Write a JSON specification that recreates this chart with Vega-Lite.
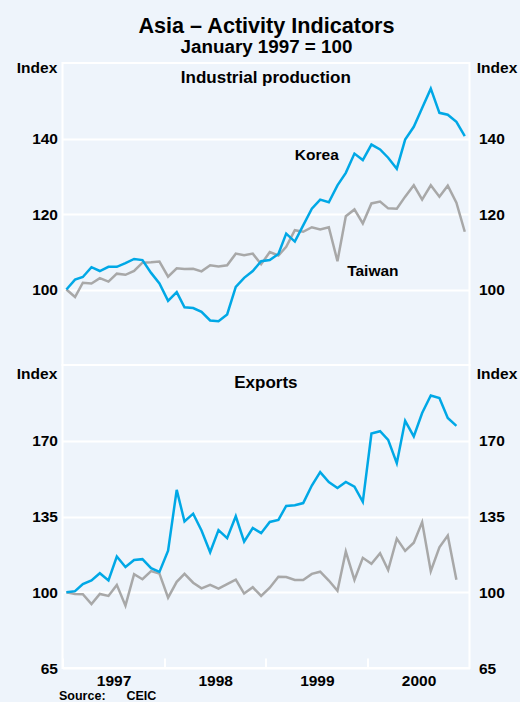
{
  "$schema": "https://vega.github.io/schema/vega-lite/v6.json",
  "padding": {"left": 14.5, "top": 15, "right": 30, "bottom": 40},
  "background": "#EEF4FB",
  "title": {
    "text": "Asia – Activity Indicators",
    "subtitle": "January 1997 = 100",
    "fontSize": 21.6,
    "subtitleFontSize": 18.8,
    "subtitleFont": "Liberation Sans",
    "subtitleFontWeight": "bold",
    "subtitleColor": "black",
    "subtitlePadding": 1,
    "anchor": "middle",
    "offset": 2
  },
  "datasets": {
    "series": [
      {"s":"IP","c":"Korea","d":"1997-01-15","v":100},
      {"s":"IP","c":"Korea","d":"1997-02-15","v":102.6},
      {"s":"IP","c":"Korea","d":"1997-03-15","v":103.3},
      {"s":"IP","c":"Korea","d":"1997-04-15","v":105.9},
      {"s":"IP","c":"Korea","d":"1997-05-15","v":104.9},
      {"s":"IP","c":"Korea","d":"1997-06-15","v":106.0},
      {"s":"IP","c":"Korea","d":"1997-07-15","v":106.0},
      {"s":"IP","c":"Korea","d":"1997-08-15","v":107.0},
      {"s":"IP","c":"Korea","d":"1997-09-15","v":108.1},
      {"s":"IP","c":"Korea","d":"1997-10-15","v":107.8},
      {"s":"IP","c":"Korea","d":"1997-11-15","v":104.4},
      {"s":"IP","c":"Korea","d":"1997-12-15","v":101.6},
      {"s":"IP","c":"Korea","d":"1998-01-15","v":97.0},
      {"s":"IP","c":"Korea","d":"1998-02-15","v":99.3},
      {"s":"IP","c":"Korea","d":"1998-03-15","v":95.3},
      {"s":"IP","c":"Korea","d":"1998-04-15","v":95.1},
      {"s":"IP","c":"Korea","d":"1998-05-15","v":94.1},
      {"s":"IP","c":"Korea","d":"1998-06-15","v":91.8},
      {"s":"IP","c":"Korea","d":"1998-07-15","v":91.6},
      {"s":"IP","c":"Korea","d":"1998-08-15","v":93.4},
      {"s":"IP","c":"Korea","d":"1998-09-15","v":100.7},
      {"s":"IP","c":"Korea","d":"1998-10-15","v":103.1},
      {"s":"IP","c":"Korea","d":"1998-11-15","v":104.9},
      {"s":"IP","c":"Korea","d":"1998-12-15","v":107.5},
      {"s":"IP","c":"Korea","d":"1999-01-15","v":107.8},
      {"s":"IP","c":"Korea","d":"1999-02-15","v":109.4},
      {"s":"IP","c":"Korea","d":"1999-03-15","v":114.8},
      {"s":"IP","c":"Korea","d":"1999-04-15","v":112.7},
      {"s":"IP","c":"Korea","d":"1999-05-15","v":117.0},
      {"s":"IP","c":"Korea","d":"1999-06-15","v":121.4},
      {"s":"IP","c":"Korea","d":"1999-07-15","v":123.8},
      {"s":"IP","c":"Korea","d":"1999-08-15","v":123.1},
      {"s":"IP","c":"Korea","d":"1999-09-15","v":127.6},
      {"s":"IP","c":"Korea","d":"1999-10-15","v":130.9},
      {"s":"IP","c":"Korea","d":"1999-11-15","v":136.0},
      {"s":"IP","c":"Korea","d":"1999-12-15","v":134.3},
      {"s":"IP","c":"Korea","d":"2000-01-15","v":138.4},
      {"s":"IP","c":"Korea","d":"2000-02-15","v":137.1},
      {"s":"IP","c":"Korea","d":"2000-03-15","v":134.9},
      {"s":"IP","c":"Korea","d":"2000-04-15","v":132.0},
      {"s":"IP","c":"Korea","d":"2000-05-15","v":139.7},
      {"s":"IP","c":"Korea","d":"2000-06-15","v":143.1},
      {"s":"IP","c":"Korea","d":"2000-07-15","v":148.1},
      {"s":"IP","c":"Korea","d":"2000-08-15","v":153.2},
      {"s":"IP","c":"Korea","d":"2000-09-15","v":146.8},
      {"s":"IP","c":"Korea","d":"2000-10-15","v":146.3},
      {"s":"IP","c":"Korea","d":"2000-11-15","v":144.4},
      {"s":"IP","c":"Korea","d":"2000-12-15","v":140.6},
      {"s":"IP","c":"Taiwan","d":"1997-01-15","v":100},
      {"s":"IP","c":"Taiwan","d":"1997-02-15","v":98.0},
      {"s":"IP","c":"Taiwan","d":"1997-03-15","v":101.8},
      {"s":"IP","c":"Taiwan","d":"1997-04-15","v":101.6},
      {"s":"IP","c":"Taiwan","d":"1997-05-15","v":103.0},
      {"s":"IP","c":"Taiwan","d":"1997-06-15","v":102.1},
      {"s":"IP","c":"Taiwan","d":"1997-07-15","v":104.2},
      {"s":"IP","c":"Taiwan","d":"1997-08-15","v":103.9},
      {"s":"IP","c":"Taiwan","d":"1997-09-15","v":104.9},
      {"s":"IP","c":"Taiwan","d":"1997-10-15","v":107.1},
      {"s":"IP","c":"Taiwan","d":"1997-11-15","v":107.2},
      {"s":"IP","c":"Taiwan","d":"1997-12-15","v":107.4},
      {"s":"IP","c":"Taiwan","d":"1998-01-15","v":103.4},
      {"s":"IP","c":"Taiwan","d":"1998-02-15","v":105.6},
      {"s":"IP","c":"Taiwan","d":"1998-03-15","v":105.4},
      {"s":"IP","c":"Taiwan","d":"1998-04-15","v":105.5},
      {"s":"IP","c":"Taiwan","d":"1998-05-15","v":104.8},
      {"s":"IP","c":"Taiwan","d":"1998-06-15","v":106.4},
      {"s":"IP","c":"Taiwan","d":"1998-07-15","v":106.1},
      {"s":"IP","c":"Taiwan","d":"1998-08-15","v":106.4},
      {"s":"IP","c":"Taiwan","d":"1998-09-15","v":109.5},
      {"s":"IP","c":"Taiwan","d":"1998-10-15","v":109.1},
      {"s":"IP","c":"Taiwan","d":"1998-11-15","v":109.5},
      {"s":"IP","c":"Taiwan","d":"1998-12-15","v":106.7},
      {"s":"IP","c":"Taiwan","d":"1999-01-15","v":109.9},
      {"s":"IP","c":"Taiwan","d":"1999-02-15","v":109.0},
      {"s":"IP","c":"Taiwan","d":"1999-03-15","v":111.3},
      {"s":"IP","c":"Taiwan","d":"1999-04-15","v":115.7},
      {"s":"IP","c":"Taiwan","d":"1999-05-15","v":115.3},
      {"s":"IP","c":"Taiwan","d":"1999-06-15","v":116.5},
      {"s":"IP","c":"Taiwan","d":"1999-07-15","v":115.9},
      {"s":"IP","c":"Taiwan","d":"1999-08-15","v":116.5},
      {"s":"IP","c":"Taiwan","d":"1999-09-15","v":107.5},
      {"s":"IP","c":"Taiwan","d":"1999-10-15","v":119.4},
      {"s":"IP","c":"Taiwan","d":"1999-11-15","v":121.2},
      {"s":"IP","c":"Taiwan","d":"1999-12-15","v":117.5},
      {"s":"IP","c":"Taiwan","d":"2000-01-15","v":122.8},
      {"s":"IP","c":"Taiwan","d":"2000-02-15","v":123.3},
      {"s":"IP","c":"Taiwan","d":"2000-03-15","v":121.5},
      {"s":"IP","c":"Taiwan","d":"2000-04-15","v":121.4},
      {"s":"IP","c":"Taiwan","d":"2000-05-15","v":124.6},
      {"s":"IP","c":"Taiwan","d":"2000-06-15","v":127.6},
      {"s":"IP","c":"Taiwan","d":"2000-07-15","v":123.8},
      {"s":"IP","c":"Taiwan","d":"2000-08-15","v":127.6},
      {"s":"IP","c":"Taiwan","d":"2000-09-15","v":124.6},
      {"s":"IP","c":"Taiwan","d":"2000-10-15","v":127.5},
      {"s":"IP","c":"Taiwan","d":"2000-11-15","v":123.0},
      {"s":"IP","c":"Taiwan","d":"2000-12-15","v":115.3},
      {"s":"EX","c":"Korea","d":"1997-01-15","v":100},
      {"s":"EX","c":"Korea","d":"1997-02-15","v":100.5},
      {"s":"EX","c":"Korea","d":"1997-03-15","v":103.8},
      {"s":"EX","c":"Korea","d":"1997-04-15","v":105.5},
      {"s":"EX","c":"Korea","d":"1997-05-15","v":108.8},
      {"s":"EX","c":"Korea","d":"1997-06-15","v":105.5},
      {"s":"EX","c":"Korea","d":"1997-07-15","v":116.5},
      {"s":"EX","c":"Korea","d":"1997-08-15","v":111.7},
      {"s":"EX","c":"Korea","d":"1997-09-15","v":114.9},
      {"s":"EX","c":"Korea","d":"1997-10-15","v":115.3},
      {"s":"EX","c":"Korea","d":"1997-11-15","v":111.1},
      {"s":"EX","c":"Korea","d":"1997-12-15","v":109.4},
      {"s":"EX","c":"Korea","d":"1998-01-15","v":119.2},
      {"s":"EX","c":"Korea","d":"1998-02-15","v":147.3},
      {"s":"EX","c":"Korea","d":"1998-03-15","v":132.7},
      {"s":"EX","c":"Korea","d":"1998-04-15","v":136.3},
      {"s":"EX","c":"Korea","d":"1998-05-15","v":128.5},
      {"s":"EX","c":"Korea","d":"1998-06-15","v":118.5},
      {"s":"EX","c":"Korea","d":"1998-07-15","v":128.7},
      {"s":"EX","c":"Korea","d":"1998-08-15","v":125.0},
      {"s":"EX","c":"Korea","d":"1998-09-15","v":135.1},
      {"s":"EX","c":"Korea","d":"1998-10-15","v":123.4},
      {"s":"EX","c":"Korea","d":"1998-11-15","v":129.7},
      {"s":"EX","c":"Korea","d":"1998-12-15","v":127.3},
      {"s":"EX","c":"Korea","d":"1999-01-15","v":132.5},
      {"s":"EX","c":"Korea","d":"1999-02-15","v":133.4},
      {"s":"EX","c":"Korea","d":"1999-03-15","v":139.9},
      {"s":"EX","c":"Korea","d":"1999-04-15","v":140.2},
      {"s":"EX","c":"Korea","d":"1999-05-15","v":141.2},
      {"s":"EX","c":"Korea","d":"1999-06-15","v":149.3},
      {"s":"EX","c":"Korea","d":"1999-07-15","v":155.5},
      {"s":"EX","c":"Korea","d":"1999-08-15","v":150.9},
      {"s":"EX","c":"Korea","d":"1999-09-15","v":148.2},
      {"s":"EX","c":"Korea","d":"1999-10-15","v":151.0},
      {"s":"EX","c":"Korea","d":"1999-11-15","v":148.8},
      {"s":"EX","c":"Korea","d":"1999-12-15","v":141.8},
      {"s":"EX","c":"Korea","d":"2000-01-15","v":173.3},
      {"s":"EX","c":"Korea","d":"2000-02-15","v":174.4},
      {"s":"EX","c":"Korea","d":"2000-03-15","v":170.4},
      {"s":"EX","c":"Korea","d":"2000-04-15","v":159.6},
      {"s":"EX","c":"Korea","d":"2000-05-15","v":179.2},
      {"s":"EX","c":"Korea","d":"2000-06-15","v":172.0},
      {"s":"EX","c":"Korea","d":"2000-07-15","v":182.8},
      {"s":"EX","c":"Korea","d":"2000-08-15","v":190.9},
      {"s":"EX","c":"Korea","d":"2000-09-15","v":189.7},
      {"s":"EX","c":"Korea","d":"2000-10-15","v":180.5},
      {"s":"EX","c":"Korea","d":"2000-11-15","v":176.9},
      {"s":"EX","c":"Taiwan","d":"1997-01-15","v":100},
      {"s":"EX","c":"Taiwan","d":"1997-02-15","v":99.2},
      {"s":"EX","c":"Taiwan","d":"1997-03-15","v":99.1},
      {"s":"EX","c":"Taiwan","d":"1997-04-15","v":94.5},
      {"s":"EX","c":"Taiwan","d":"1997-05-15","v":99.2},
      {"s":"EX","c":"Taiwan","d":"1997-06-15","v":98.3},
      {"s":"EX","c":"Taiwan","d":"1997-07-15","v":103.4},
      {"s":"EX","c":"Taiwan","d":"1997-08-15","v":93.8},
      {"s":"EX","c":"Taiwan","d":"1997-09-15","v":108.3},
      {"s":"EX","c":"Taiwan","d":"1997-10-15","v":106.0},
      {"s":"EX","c":"Taiwan","d":"1997-11-15","v":109.8},
      {"s":"EX","c":"Taiwan","d":"1997-12-15","v":108.6},
      {"s":"EX","c":"Taiwan","d":"1998-01-15","v":97.5},
      {"s":"EX","c":"Taiwan","d":"1998-02-15","v":104.8},
      {"s":"EX","c":"Taiwan","d":"1998-03-15","v":108.5},
      {"s":"EX","c":"Taiwan","d":"1998-04-15","v":104.4},
      {"s":"EX","c":"Taiwan","d":"1998-05-15","v":101.8},
      {"s":"EX","c":"Taiwan","d":"1998-06-15","v":103.4},
      {"s":"EX","c":"Taiwan","d":"1998-07-15","v":101.7},
      {"s":"EX","c":"Taiwan","d":"1998-08-15","v":103.8},
      {"s":"EX","c":"Taiwan","d":"1998-09-15","v":105.8},
      {"s":"EX","c":"Taiwan","d":"1998-10-15","v":99.4},
      {"s":"EX","c":"Taiwan","d":"1998-11-15","v":102.3},
      {"s":"EX","c":"Taiwan","d":"1998-12-15","v":98.3},
      {"s":"EX","c":"Taiwan","d":"1999-01-15","v":102.1},
      {"s":"EX","c":"Taiwan","d":"1999-02-15","v":107.2},
      {"s":"EX","c":"Taiwan","d":"1999-03-15","v":107.0},
      {"s":"EX","c":"Taiwan","d":"1999-04-15","v":105.7},
      {"s":"EX","c":"Taiwan","d":"1999-05-15","v":105.7},
      {"s":"EX","c":"Taiwan","d":"1999-06-15","v":108.5},
      {"s":"EX","c":"Taiwan","d":"1999-07-15","v":109.5},
      {"s":"EX","c":"Taiwan","d":"1999-08-15","v":105.4},
      {"s":"EX","c":"Taiwan","d":"1999-09-15","v":100.7},
      {"s":"EX","c":"Taiwan","d":"1999-10-15","v":118.8},
      {"s":"EX","c":"Taiwan","d":"1999-11-15","v":105.7},
      {"s":"EX","c":"Taiwan","d":"1999-12-15","v":115.9},
      {"s":"EX","c":"Taiwan","d":"2000-01-15","v":113.1},
      {"s":"EX","c":"Taiwan","d":"2000-02-15","v":118.0},
      {"s":"EX","c":"Taiwan","d":"2000-03-15","v":110.3},
      {"s":"EX","c":"Taiwan","d":"2000-04-15","v":124.8},
      {"s":"EX","c":"Taiwan","d":"2000-05-15","v":119.1},
      {"s":"EX","c":"Taiwan","d":"2000-06-15","v":122.9},
      {"s":"EX","c":"Taiwan","d":"2000-07-15","v":132.4},
      {"s":"EX","c":"Taiwan","d":"2000-08-15","v":109.7},
      {"s":"EX","c":"Taiwan","d":"2000-09-15","v":120.8},
      {"s":"EX","c":"Taiwan","d":"2000-10-15","v":126.2},
      {"s":"EX","c":"Taiwan","d":"2000-11-15","v":105.8}
    ],
    "labels": [
      {"c":"Korea","d":"1999-07-03","v":135.5},
      {"c":"Taiwan","d":"2000-01-20","v":105.0}
    ],
    "paneltitles": [
      {"p":"IP","t":"Industrial production","d":"1999-01-01","v":154.6},
      {"p":"EX","t":"Exports","d":"1999-01-01","v":194.5}
    ]
  },
  "spacing": 0,
  "bounds": "flush",
  "vconcat": [
    {
      "width": 407,
      "height": 302,
      "layer": [
        {
          "data": {"name": "series"},
          "transform": [{"filter": "datum.s === 'IP' && datum.c === 'Taiwan'"}],
          "mark": {"type": "line", "color": "#A8A8A8", "strokeWidth": 2.5},
          "encoding": {
            "x": {"field": "d", "type": "temporal", "scale": {"type": "utc", "domain": [{"year": 1997, "month": 1, "date": 1, "utc": true}, {"year": 2001, "month": 1, "date": 1, "utc": true}]}, "axis": null},
            "y": {"field": "v", "type": "quantitative", "scale": {"domain": [80, 160]},
              "axis": {"orient": "left", "values": [100, 120, 140], "grid": true, "title": "Index", "titleAngle": 0, "titleX": -26, "titleY": 9, "titleAlign": "center", "titleBaseline": "alphabetic", "labelPadding": 5}}
          }
        },
        {
          "data": {"name": "series"},
          "transform": [{"filter": "datum.s === 'IP' && datum.c === 'Korea'"}],
          "mark": {"type": "line", "color": "#00A8E6", "strokeWidth": 2.5},
          "encoding": {
            "x": {"field": "d", "type": "temporal", "scale": {"type": "utc", "domain": [{"year": 1997, "month": 1, "date": 1, "utc": true}, {"year": 2001, "month": 1, "date": 1, "utc": true}]}, "axis": null},
            "y": {"field": "v", "type": "quantitative", "scale": {"domain": [80, 160]},
              "axis": {"orient": "right", "values": [100, 120, 140], "grid": false, "title": "Index", "titleAngle": 0, "titleX": 27, "titleY": 9, "titleAlign": "center", "titleBaseline": "alphabetic", "labelPadding": 9}}
          }
        },
        {
          "data": {"name": "labels"},
          "mark": {"type": "text", "font": "Liberation Sans", "fontSize": 15.5, "fontWeight": "bold", "color": "black", "align": "center", "baseline": "middle"},
          "encoding": {
            "x": {"field": "d", "type": "temporal", "scale": {"type": "utc", "domain": [{"year": 1997, "month": 1, "date": 1, "utc": true}, {"year": 2001, "month": 1, "date": 1, "utc": true}]}, "axis": null},
            "y": {"field": "v", "type": "quantitative", "scale": {"domain": [80, 160]}, "axis": null},
            "text": {"field": "c"}
          }
        },
        {
          "data": {"name": "paneltitles"},
          "transform": [{"filter": "datum.p === 'IP'"}],
          "mark": {"type": "text", "font": "Liberation Sans", "fontSize": 17, "fontWeight": "bold", "color": "black", "align": "center", "baseline": "alphabetic"},
          "encoding": {
            "x": {"field": "d", "type": "temporal", "scale": {"type": "utc", "domain": [{"year": 1997, "month": 1, "date": 1, "utc": true}, {"year": 2001, "month": 1, "date": 1, "utc": true}]}, "axis": null},
            "y": {"field": "v", "type": "quantitative", "scale": {"domain": [80, 160]}, "axis": null},
            "text": {"field": "t"}
          }
        }
      ],
      "resolve": {"scale": {"y": "independent"}}
    },
    {
      "width": 407,
      "height": 303,
      "layer": [
        {
          "data": {"name": "series"},
          "transform": [{"filter": "datum.s === 'EX' && datum.c === 'Taiwan'"}],
          "mark": {"type": "line", "color": "#A8A8A8", "strokeWidth": 2.5},
          "encoding": {
            "x": {"field": "d", "type": "temporal", "scale": {"type": "utc", "domain": [{"year": 1997, "month": 1, "date": 1, "utc": true}, {"year": 2001, "month": 1, "date": 1, "utc": true}]},
              "axis": {"values": [{"year": 1997, "month": 1, "date": 1, "utc": true}, {"year": 1998, "month": 1, "date": 1, "utc": true}, {"year": 1999, "month": 1, "date": 1, "utc": true}, {"year": 2000, "month": 1, "date": 1, "utc": true}], "format": "%Y", "labelOffset": 51, "labelFlush": false, "labelOverlap": false, "ticks": true, "tickSize": -10, "tickColor": "white", "tickWidth": 2, "labelPadding": 15.5, "labelBaseline": "top", "labelAlign": "center", "grid": false,
                "title": "Source:\u00a0\u00a0\u00a0\u00a0\u00a0\u00a0CEIC", "titleX": -4, "titleY": 31, "titleAlign": "left", "titleAnchor": "start", "titleBaseline": "alphabetic", "titleFontSize": 12.5}},
            "y": {"field": "v", "type": "quantitative", "scale": {"domain": [65, 205]},
              "axis": {"orient": "left", "values": [65, 100, 135, 170], "grid": true, "title": "Index", "titleAngle": 0, "titleX": -26, "titleY": 13, "titleAlign": "center", "titleBaseline": "alphabetic", "labelPadding": 5}}
          }
        },
        {
          "data": {"name": "series"},
          "transform": [{"filter": "datum.s === 'EX' && datum.c === 'Korea'"}],
          "mark": {"type": "line", "color": "#00A8E6", "strokeWidth": 2.5},
          "encoding": {
            "x": {"field": "d", "type": "temporal", "scale": {"type": "utc", "domain": [{"year": 1997, "month": 1, "date": 1, "utc": true}, {"year": 2001, "month": 1, "date": 1, "utc": true}]},
              "axis": {"values": [{"year": 1997, "month": 1, "date": 1, "utc": true}, {"year": 1998, "month": 1, "date": 1, "utc": true}, {"year": 1999, "month": 1, "date": 1, "utc": true}, {"year": 2000, "month": 1, "date": 1, "utc": true}], "format": "%Y", "labelOffset": 51, "labelFlush": false, "labelOverlap": false, "ticks": true, "tickSize": -10, "tickColor": "white", "tickWidth": 2, "labelPadding": 15.5, "labelBaseline": "top", "labelAlign": "center", "grid": false,
                "title": "Source:\u00a0\u00a0\u00a0\u00a0\u00a0\u00a0CEIC", "titleX": -4, "titleY": 31, "titleAlign": "left", "titleAnchor": "start", "titleBaseline": "alphabetic", "titleFontSize": 12.5}},
            "y": {"field": "v", "type": "quantitative", "scale": {"domain": [65, 205]},
              "axis": {"orient": "right", "values": [65, 100, 135, 170], "grid": false, "title": "Index", "titleAngle": 0, "titleX": 27, "titleY": 13, "titleAlign": "center", "titleBaseline": "alphabetic", "labelPadding": 9}}
          }
        },
        {
          "data": {"name": "paneltitles"},
          "transform": [{"filter": "datum.p === 'EX'"}],
          "mark": {"type": "text", "font": "Liberation Sans", "fontSize": 17, "fontWeight": "bold", "color": "black", "align": "center", "baseline": "alphabetic"},
          "encoding": {
            "x": {"field": "d", "type": "temporal", "scale": {"type": "utc", "domain": [{"year": 1997, "month": 1, "date": 1, "utc": true}, {"year": 2001, "month": 1, "date": 1, "utc": true}]},
              "axis": {"values": [{"year": 1997, "month": 1, "date": 1, "utc": true}, {"year": 1998, "month": 1, "date": 1, "utc": true}, {"year": 1999, "month": 1, "date": 1, "utc": true}, {"year": 2000, "month": 1, "date": 1, "utc": true}], "format": "%Y", "labelOffset": 51, "labelFlush": false, "labelOverlap": false, "ticks": true, "tickSize": -10, "tickColor": "white", "tickWidth": 2, "labelPadding": 15.5, "labelBaseline": "top", "labelAlign": "center", "grid": false,
                "title": "Source:\u00a0\u00a0\u00a0\u00a0\u00a0\u00a0CEIC", "titleX": -4, "titleY": 31, "titleAlign": "left", "titleAnchor": "start", "titleBaseline": "alphabetic", "titleFontSize": 12.5}},
            "y": {"field": "v", "type": "quantitative", "scale": {"domain": [65, 205]}, "axis": null},
            "text": {"field": "t"}
          }
        }
      ],
      "resolve": {"scale": {"y": "independent"}}
    }
  ],
  "config": {
    "font": "Liberation Sans",
    "view": {"stroke": "white", "strokeWidth": 2, "fill": "#EEF4FB"},
    "axis": {"labelFont": "Liberation Sans", "labelFontSize": 15.5, "labelFontWeight": "bold", "labelColor": "black", "titleFont": "Liberation Sans", "titleFontSize": 15.5, "titleFontWeight": "bold", "titleColor": "black", "domain": false, "ticks": false, "gridColor": "white", "gridWidth": 2, "gridOpacity": 1},
    "title": {"font": "Liberation Sans", "fontWeight": "bold", "color": "black"}
  }
}
